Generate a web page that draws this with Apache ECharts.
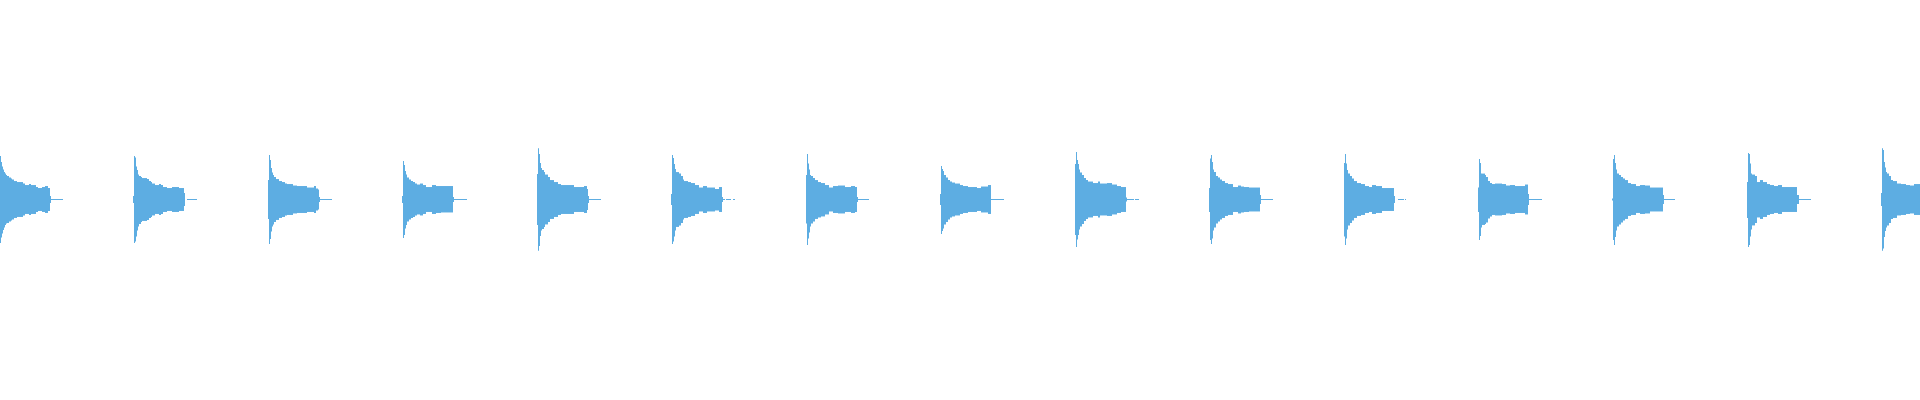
<!DOCTYPE html>
<html>
<head>
<meta charset="utf-8">
<script src="https://cdn.jsdelivr.net/npm/echarts@6/dist/echarts.min.js"></script>
<style>html,body{margin:0;padding:0;background:#fff;}#c{width:1920px;height:400px;}</style>
</head>
<body>
<div id="c"></div>
<script>
// Note onset times (spike column), time units on x axis
var onsets = [0, 134, 269, 403, 538, 672, 807, 941, 1076, 1210, 1344, 1479, 1613, 1748, 1882];

// Envelope steps per note: [offset from onset, positive peak, negative peak]; each step holds until the next offset
var note1 = [[0,43.5,43.5],[1,37.5,38],[2,33,34],[3,30,30.5],[4,27.5,28],[5,26,25.5],[6,24.5,24],[7,23.5,23.5],[9,22,22],[11,21,21],[12,20,20],[14,18.5,18.5],[17,17.5,17.5],[23,16,16],[25,14.5,14.5],[29,15.5,15.5],[31,14.5,14.5],[36,12.5,12.5],[38,11.5,11.5],[42,12.5,12.5],[45,13.5,13.5],[48,11.5,11.5],[50,3.5,3.5],[51,0.5,0.5],[63,0,0]];
var note2 = [[-1,3.5,3.5],[0,43.5,43.5],[1,42,42],[2,33,37],[3,29.5,31],[4,25,27],[5,23.5,24.5],[7,22.5,22.5],[8,21.5,21.5],[13,20.5,20.5],[15,18.5,18.5],[17,17.5,17.5],[18,16,16],[21,14.5,14.5],[25,15.5,15.5],[27,14.5,14.5],[29,12.5,12.5],[33,11.5,11.5],[38,12.5,12.5],[45,11.5,11.5],[50,6.5,6.5],[51,0,0],[53,0.5,0.5],[63,0,0]];
var note3 = [[-1,19.5,19.5],[0,44.5,44.5],[1,39.5,39.5],[2,31.5,32],[3,27,27],[4,24.5,25],[5,22.5,22.5],[7,20.5,20.5],[10,18.5,18.5],[13,17.5,17.5],[16,16,16],[18,15.5,15.5],[24,14,14],[28,13.5,13.5],[38,12,12.5],[45,13.5,13.5],[47,11,11],[49,10,10],[50,2.5,2.5],[51,0.5,0.5],[63,0,0]];
var note4 = [[-1,3.5,3.5],[0,38.5,38.5],[1,34.5,35.5],[2,28.5,29],[3,25,25.5],[4,22,22],[6,20,20],[8,18.5,18.5],[10,17.5,17.5],[12,16,16],[14,15,15],[17,16,16],[20,14.5,14.5],[23,12.5,12.5],[29,14.5,14.5],[33,13.5,13.5],[38,13.5,13],[50,2.5,2.5],[51,0.5,0.5],[64,0,0]];
var note5 = [[-1,25.5,25.5],[0,51.5,51.5],[1,45.5,46.5],[2,36.5,36.5],[3,31.5,31],[4,29.5,29.5],[6,27.5,27.5],[7,25,25],[10,22.5,22.5],[12,19.5,19.5],[16,17.5,17.5],[20,15.5,15.5],[23,14.5,14.5],[36,12.5,12.5],[46,13.5,13.5],[49,10.5,10.5],[50,3.5,3.5],[51,0.5,0.5],[63,0,0]];
var note6 = [[-1,5.5,5.5],[0,44.5,44.5],[1,41.5,42],[2,35.5,37],[3,30.5,31],[4,27.5,27.5],[7,26,26],[9,23.5,23.5],[11,20,20],[12,18.5,18.5],[16,17.5,17.5],[19,16.5,16.5],[23,14.5,14.5],[27,12,12],[31,13.5,13.5],[35,12,12],[43,10.5,11],[47,12.5,12.5],[50,2.5,2.5],[51,0.5,0.5],[53,0,0],[54,0.5,0.5],[59,0,0],[61,0.5,0.5],[63,0,0]];
var note7 = [[-1,24.5,24],[0,45.5,45.5],[1,36,39],[2,30,33],[3,24.5,27],[4,23.5,24],[6,21.5,22],[8,19.5,19.5],[11,17.5,18],[14,16.5,17],[18,14.5,15],[22,12,12],[26,13.5,13.5],[31,14,14],[38,12.5,12.5],[44,13.5,13.5],[48,12.5,12.5],[50,2.5,2.5],[51,0.5,0.5],[62,0,0]];
var note8 = [[-1,5.5,5.5],[0,33.5,34.5],[1,30.5,31.5],[2,28.5,29],[3,24.5,25],[5,22,22.5],[7,19.5,20],[9,18,18],[11,17,17],[14,16,16],[19,14.5,14.5],[22,13.5,13.5],[27,12.5,12.5],[36,11.5,11.5],[40,13,13],[47,14.5,14.5],[50,0.5,0.5],[63,0,0]];
var note9 = [[-1,35.5,35.5],[0,47.5,47.5],[1,39.5,40],[2,35.5,35.5],[3,30,30],[4,27,27],[6,24.5,24.5],[8,21.5,21.5],[10,19.5,19.5],[12,18,18],[17,16.5,16.5],[22,18,18],[24,16,16],[31,16.5,16.5],[36,15,15],[41,13.5,13.5],[45,12.5,12.5],[50,2,2],[51,0.5,0.5],[58,0,0],[59,0.5,0.5],[63,0,0]];
var note10 = [[-1,11.5,12.5],[0,41,40.5],[1,44.5,44.5],[2,37.5,39],[3,30,31],[4,27.5,28],[6,23.5,24],[8,22,22],[10,20,20],[12,18.5,18.5],[15,16.5,16.5],[18,15.5,15.5],[23,12.5,12.5],[28,14,14],[31,13,13],[34,12.5,12.5],[39,12,12],[50,4.5,4.5],[51,0.5,0.5],[63,0,0]];
var note11 = [[0,36.5,37],[1,45.5,45.5],[2,36,39],[3,29.5,30],[4,26,26],[6,23.5,23.5],[8,21,21],[10,18.5,18.5],[13,16.5,16.5],[17,15.5,15.5],[21,13.5,13.5],[25,12.5,12.5],[28,14.5,14.5],[32,13.5,13.5],[38,11.5,11.5],[50,3.5,3.5],[51,0,0],[54,0.5,0.5],[60,0,0],[61,0.5,0.5],[62,0,0]];
var note12 = [[-1,12,12.5],[0,40.5,40.5],[1,36.5,36.5],[2,26,28],[3,26,25.5],[6,24.5,24.5],[7,22.5,23],[9,18.5,19],[11,16.5,17],[13,15.5,15.5],[16,16,16],[23,15.5,15.5],[27,14,14],[31,14.5,14.5],[36,13.5,13.5],[46,15,15],[49,5.5,5.5],[50,0.5,0.5],[63,0,0]];
var note13 = [[-1,1,1],[0,40.5,40.5],[1,44.5,45.5],[2,36.5,37.5],[3,30,31],[4,26,27],[6,24.5,25],[8,22.5,23],[10,21,21],[12,19.5,19.5],[15,16.5,16.5],[18,15.5,15.5],[23,13.5,13.5],[27,14.5,14.5],[32,14,14],[37,12,12],[50,4.5,4.5],[51,0.5,0.5],[62,0,0]];
var note14 = [[-1,17.5,18.5],[0,46.5,47.5],[1,45.5,45.5],[2,36,37],[3,26,30],[4,25,26],[7,23.5,23.5],[9,17.5,18],[12,19.5,19.5],[15,17.5,17.5],[19,15.5,15.5],[22,14.5,14.5],[26,13.5,13.5],[30,14.5,14.5],[34,12.5,12.5],[49,4.5,4.5],[51,0.5,0.5],[63,0,0]];
var note15 = [[-1,6.5,6.5],[0,51.5,51.5],[1,49.5,49],[2,37.5,37.5],[3,32,31.5],[4,27.5,28],[5,26,26],[7,23.5,23.5],[9,19.5,19.5],[11,18.5,18.5],[15,16,16],[19,15.5,15.5],[24,14.5,14.5],[28,14,14],[32,15.5,15.5],[38,0,0]];

var notes = [note1, note2, note3, note4, note5, note6, note7, note8, note9, note10, note11, note12, note13, note14, note15];

// Build table for the library: [tStart, tEnd, positive peak, negative peak]
var segs = [];
notes.forEach(function (env, n) {
  for (var i = 0; i < env.length - 1; i++) {
    if (env[i][1] > 0 || env[i][2] > 0) {
      segs.push([onsets[n] + env[i][0], onsets[n] + env[i + 1][0], env[i][1], env[i][2]]);
    }
  }
});

var chart = echarts.init(document.getElementById('c'));
chart.setOption({
  animation: false,
  backgroundColor: '#ffffff',
  grid: { left: 0, right: 0, top: 0, bottom: 1 },
  xAxis: { type: 'value', min: 0, max: 1920, show: false },
  yAxis: { type: 'value', min: -200, max: 200, show: false },
  series: [{
    type: 'custom',
    clip: true,
    data: segs,
    encode: { x: [0, 1], y: [2, 3] },
    renderItem: function (params, api) {
      var p0 = api.coord([api.value(0), api.value(2)]);
      var p1 = api.coord([api.value(1), -api.value(3)]);
      return {
        type: 'rect',
        shape: { x: p0[0], y: p0[1], width: p1[0] - p0[0], height: p1[1] - p0[1] },
        style: { fill: '#5dade2' }
      };
    }
  }]
});
</script>
</body>
</html>
